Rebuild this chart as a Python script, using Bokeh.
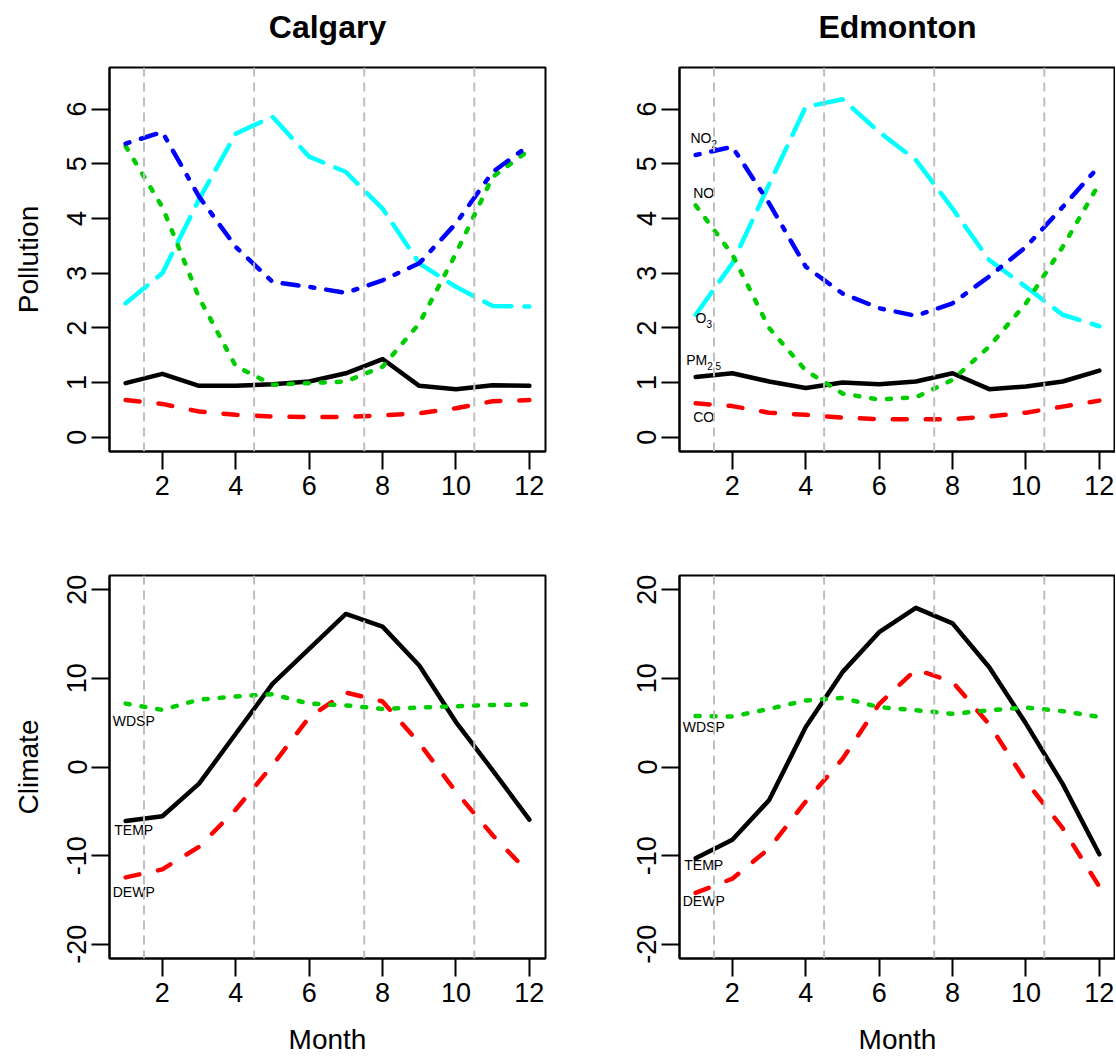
import math
from bokeh.plotting import figure
from bokeh.models import Range1d, FixedTicker, Span, Title
from bokeh.layouts import column, row
from bokeh.embed import file_html
from bokeh.resources import INLINE
from bokeh.core.properties import value

# ---------------- data ----------------
months = [1, 2, 3, 4, 5, 6, 7, 8, 9, 10, 11, 12]
month_ticks = [2, 4, 6, 8, 10, 12]
pollution_ticks = [0, 1, 2, 3, 4, 5, 6]
climate_ticks = [-20, -10, 0, 10, 20]
season_breaks = [1.5, 4.5, 7.5, 10.5]
cities = ["Calgary", "Edmonton"]
row_titles = ["Pollution", "Climate"]
x_title = "Month"

cal_pm25 = [0.99, 1.16, 0.94, 0.94, 0.97, 1.02, 1.17, 1.43, 0.94, 0.88, 0.95, 0.94]
cal_co = [0.68, 0.61, 0.47, 0.41, 0.38, 0.37, 0.37, 0.40, 0.44, 0.53, 0.66, 0.68]
cal_o3 = [2.45, 3.00, 4.35, 5.55, 5.86, 5.13, 4.85, 4.18, 3.18, 2.75, 2.40, 2.39]
cal_no = [5.32, 4.21, 2.55, 1.30, 0.96, 0.99, 1.02, 1.29, 2.08, 3.36, 4.76, 5.25]
cal_no2 = [5.37, 5.58, 4.40, 3.48, 2.84, 2.75, 2.64, 2.87, 3.18, 3.91, 4.85, 5.34]

ed_pm25 = [1.10, 1.17, 1.02, 0.90, 1.00, 0.97, 1.02, 1.17, 0.88, 0.93, 1.02, 1.22]
ed_co = [0.62, 0.57, 0.45, 0.41, 0.36, 0.33, 0.33, 0.33, 0.38, 0.45, 0.56, 0.67]
ed_o3 = [2.24, 3.18, 4.62, 6.04, 6.18, 5.58, 5.07, 4.18, 3.24, 2.75, 2.24, 2.03]
ed_no = [4.24, 3.34, 2.00, 1.22, 0.80, 0.69, 0.73, 1.05, 1.66, 2.45, 3.48, 4.64]
ed_no2 = [5.16, 5.31, 4.28, 3.12, 2.63, 2.36, 2.22, 2.45, 2.94, 3.48, 4.21, 4.96]

cal_temp = [-6.08, -5.55, -1.88, 3.75, 9.38, 13.32, 17.26, 15.83, 11.44, 5.07, -0.37, -5.93]
cal_dewp = [-12.45, -11.55, -9.0, -4.8, 0.2, 5.6, 8.4, 7.4, 2.7, -2.8, -7.7, -12.0]
cal_wdsp = [7.15, 6.45, 7.6, 7.95, 8.2, 7.15, 6.95, 6.55, 6.7, 6.85, 7.0, 7.05]

ed_temp = [-10.3, -8.2, -3.75, 4.5, 10.7, 15.2, 17.95, 16.2, 11.25, 4.9, -1.9, -9.85]
ed_dewp = [-14.2, -12.6, -9.2, -3.9, 0.9, 7.1, 11.0, 9.6, 4.8, -1.6, -6.9, -13.5]
ed_wdsp = [5.75, 5.7, 6.55, 7.5, 7.8, 6.75, 6.4, 6.0, 6.4, 6.7, 6.3, 5.65]

# in-plot labels (Edmonton pollution, both climate panels)
poll_label_main = ["NO", "NO", "O", "PM", "CO"]
poll_label_sub = ["2", "", "3", "2.5", ""]
ed_poll_label_y = [5.48, 4.46, 2.18, 1.41, 0.37]
clim_label_text = ["WDSP", "TEMP", "DEWP"]
cal_clim_label_y = [5.16, -7.05, -14.1]
ed_clim_label_y = [4.49, -11.1, -15.1]
label_x = 1.22

# ---------------- style ----------------
FONT = "Liberation Sans"
LW = 4.5
STYLE = {
    "pm25": dict(color="black", dash="solid"),
    "co": dict(color="#FF0000", dash="14 19"),
    "o3": dict(color="#00FFFF", dash="28 13"),
    "no": dict(color="#00CD00", dash="4 12"),
    "no2": dict(color="#0000FF", dash="4 12 16 12"),
    "temp": dict(color="black", dash="solid"),
    "dewp": dict(color="#FF0000", dash="14 19"),
    "wdsp": dict(color="#00CD00", dash="4 12"),
}

FRAME_W = 436
FRAME_H = 384


def make_fig(bl, br, bt, bb, yr, yticks):
    p = figure(width=bl + FRAME_W + br, height=bt + FRAME_H + bb,
               x_range=Range1d(0.56, 12.44), y_range=Range1d(*yr),
               output_backend="svg", toolbar_location=None,
               min_border_left=bl, min_border_right=br,
               min_border_top=bt, min_border_bottom=bb)
    p.xgrid.visible = False
    p.ygrid.visible = False
    p.outline_line_color = "black"
    p.outline_line_width = 2
    p.background_fill_color = "white"
    p.border_fill_color = "white"
    for ax, ticks in ((p.xaxis[0], month_ticks), (p.yaxis[0], yticks)):
        ax.ticker = FixedTicker(ticks=ticks)
        ax.major_label_overrides = {t: str(t) for t in ticks}
        ax.minor_tick_line_color = None
        ax.major_tick_in = 0
        ax.major_tick_out = 18
        ax.major_tick_line_width = 2
        ax.major_tick_line_color = "black"
        ax.axis_line_width = 2
        ax.axis_line_color = "black"
        ax.major_label_text_font = FONT
        ax.major_label_text_font_size = "27px"
        ax.major_label_text_color = "black"
        ax.axis_label_text_font = FONT
        ax.axis_label_text_font_size = "28px"
        ax.axis_label_text_font_style = "normal"
        ax.axis_label_text_color = "black"
    p.xaxis.major_label_standoff = 6
    p.yaxis.major_label_standoff = 5
    p.yaxis.major_label_orientation = "vertical"
    for xb in season_breaks:
        p.add_layout(Span(location=xb, dimension="height", line_color="#BEBEBE",
                          line_width=2, line_dash="9 6"))
    return p


def add_line(p, ys, key):
    st = STYLE[key]
    p.line(months, ys, line_color=st["color"], line_width=LW, line_dash=st["dash"],
           line_cap="round", line_join="round")


def char_w(s, size):
    widths = {"N": .722, "O": .778, "P": .667, "M": .833, "C": .722,
              "2": .556, "3": .556, "5": .556, ".": .278}
    return sum(widths.get(c, .6) for c in s) * size


# geometry (page origin at 0,0)
TL_B = dict(bl=109, br=10, bt=67, bb=70)
TR_B = dict(bl=124, br=0, bt=67, bb=70)
BL_B = dict(bl=109, br=10, bt=54, bb=98)
BR_B = dict(bl=124, br=0, bt=54, bb=98)
POLL_R = (-0.26, 6.76)
CLIM_R = (-21.6, 21.6)

p_tl = make_fig(yr=POLL_R, yticks=pollution_ticks, **TL_B)
p_tr = make_fig(yr=POLL_R, yticks=pollution_ticks, **TR_B)
p_bl = make_fig(yr=CLIM_R, yticks=climate_ticks, **BL_B)
p_br = make_fig(yr=CLIM_R, yticks=climate_ticks, **BR_B)

# pollution lines
for p, d in ((p_tl, (cal_pm25, cal_co, cal_o3, cal_no, cal_no2)),
             (p_tr, (ed_pm25, ed_co, ed_o3, ed_no, ed_no2))):
    for ys, key in zip(d, ("pm25", "co", "o3", "no", "no2")):
        add_line(p, ys, key)

# climate lines
for p, d in ((p_bl, (cal_temp, cal_dewp, cal_wdsp)),
             (p_br, (ed_temp, ed_dewp, ed_wdsp))):
    for ys, key in zip(d, ("temp", "dewp", "wdsp")):
        add_line(p, ys, key)

# Edmonton pollution labels with subscripts
MAIN_FS, SUB_FS = 14, 10
for m, s, y in zip(poll_label_main, poll_label_sub, ed_poll_label_y):
    total = char_w(m, MAIN_FS) + char_w(s, SUB_FS)
    x0 = -total / 2
    p_tr.text(x=[label_x], y=[y], text=[m], x_offset=x0, y_offset=0,
              text_font=value(FONT), text_font_size=f"{MAIN_FS}px",
              text_align="left", text_baseline="middle", text_color="black")
    if s:
        p_tr.text(x=[label_x], y=[y], text=[s], x_offset=x0 + char_w(m, MAIN_FS),
                  y_offset=6, text_font=value(FONT), text_font_size=f"{SUB_FS}px",
                  text_align="left", text_baseline="middle", text_color="black")

# climate labels
for p, ys in ((p_bl, cal_clim_label_y), (p_br, ed_clim_label_y)):
    p.text(x=[label_x] * len(ys), y=ys, text=clim_label_text,
           text_font=value(FONT), text_font_size="14px",
           text_align="center", text_baseline="middle", text_color="black")

# titles (a thin empty spacer title sits between the frame and the real title)
for p, name in ((p_tl, cities[0]), (p_tr, cities[1])):
    p.add_layout(Title(text=" ", text_font_size="2px", standoff=19), "above")
    p.title.text = name
    p.title.align = "center"
    p.title.vertical_align = "bottom"
    p.title.text_font = FONT
    p.title.text_font_size = "32px"
    p.title.text_font_style = "bold"
    p.title.text_color = "black"
    p.title.standoff = 0

# axis titles
p_tl.yaxis.axis_label = row_titles[0]
p_bl.yaxis.axis_label = row_titles[1]
for p in (p_tl, p_bl):
    p.yaxis.axis_label_standoff = 21
for p in (p_bl, p_br):
    p.xaxis.axis_label = x_title
    p.xaxis.axis_label_standoff = 19

layout = column(row(p_tl, p_tr), row(p_bl, p_br))
open("out.html", "w").write(file_html(layout, INLINE))
